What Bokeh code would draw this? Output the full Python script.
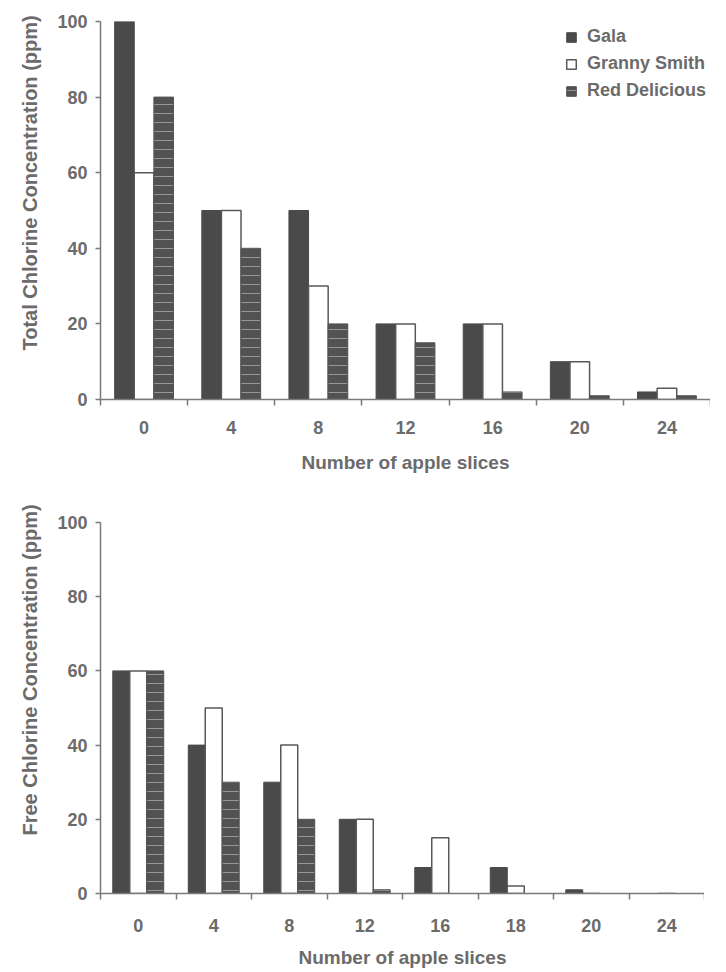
from bokeh.plotting import figure
from bokeh.models import (Range1d, FixedTicker, Legend, LegendItem, Title,
                          ColumnDataSource)
from bokeh.transform import dodge
from bokeh.layouts import column
from bokeh.embed import file_html
from bokeh.resources import INLINE

# ---------------- data ----------------
series_names = ["Gala", "Granny Smith", "Red Delicious"]

total_slices = ["0", "4", "8", "12", "16", "20", "24"]
total_gala = [100, 50, 50, 20, 20, 10, 2]
total_granny = [60, 50, 30, 20, 20, 10, 3]
total_red = [80, 40, 20, 15, 2, 1, 1]

free_slices = ["0", "4", "8", "12", "16", "18", "20", "24"]
free_gala = [60, 40, 30, 20, 7, 7, 1, 0]
free_granny = [60, 50, 40, 20, 15, 2, 0, 0]
free_red = [60, 30, 20, 1, 0, 0, 0, 0]

y_ticks = [0, 20, 40, 60, 80, 100]

# ---------------- style ----------------
FONT = "Liberation Sans"
TEXT = "#6b6b6b"
AXIS = "#7a7a7a"
GALA = "#4a4a4a"
RED = "#525252"
OUTLINE = "#585858"
BW = 0.225


def make_chart(labels, gala, granny, red, ytitle, frame_w, frame_h, top_b,
               bottom_b, title_offset, lab_standoff, title_standoff,
               with_legend):
    n = len(labels)
    xs = list(range(n))
    src = ColumnDataSource(dict(x=xs, gala=gala, granny=granny, red=red))
    p = figure(width=100 + frame_w, height=top_b + frame_h + bottom_b,
               frame_width=frame_w, frame_height=frame_h,
               x_range=Range1d(-0.5, n - 0.5), y_range=Range1d(0, 100),
               output_backend="svg", toolbar_location=None,
               min_border_left=100, min_border_right=0,
               min_border_top=top_b, min_border_bottom=bottom_b)
    p.xgrid.visible = False
    p.ygrid.visible = False
    p.outline_line_color = None

    r1 = p.vbar(x=dodge("x", -BW), top="gala", bottom=0, width=BW,
                source=src, fill_color=GALA, line_color=GALA, line_width=1)
    r2 = p.vbar(x="x", top="granny", bottom=0, width=BW, source=src,
                fill_color="white", line_color=OUTLINE, line_width=1.5)
    r3 = p.vbar(x=dodge("x", BW), top="red", bottom=0, width=BW, source=src,
                fill_color=RED, line_color=RED, line_width=1,
                hatch_pattern="horizontal_line", hatch_color="#cfcfcf",
                hatch_scale=9, hatch_weight=1, hatch_alpha=0.55)

    # x axis
    ax = p.xaxis[0]
    ax.ticker = FixedTicker(ticks=xs,
                            minor_ticks=[i - 0.5 for i in range(n + 1)])
    ax.major_label_overrides = {i: lab for i, lab in enumerate(labels)}
    ax.major_tick_line_color = None
    ax.major_tick_out = 0
    ax.major_tick_in = 0
    ax.minor_tick_line_color = AXIS
    ax.minor_tick_line_width = 1.5
    ax.minor_tick_out = 6
    ax.minor_tick_in = 0
    ax.axis_line_color = AXIS
    ax.axis_line_width = 1.5
    ax.major_label_standoff = lab_standoff
    ax.major_label_text_font = FONT
    ax.major_label_text_font_size = "18px"
    ax.major_label_text_font_style = "bold"
    ax.major_label_text_color = TEXT
    ax.axis_label = "Number of apple slices"
    ax.axis_label_standoff = title_standoff
    ax.axis_label_text_font = FONT
    ax.axis_label_text_font_size = "19px"
    ax.axis_label_text_font_style = "bold"
    ax.axis_label_text_color = TEXT

    # y axis
    ay = p.yaxis[0]
    ay.ticker = FixedTicker(ticks=y_ticks, minor_ticks=[])
    ay.major_tick_out = 5
    ay.major_tick_in = 0
    ay.major_tick_line_color = AXIS
    ay.major_tick_line_width = 1.5
    ay.minor_tick_line_color = None
    ay.axis_line_color = AXIS
    ay.axis_line_width = 1.5
    ay.major_label_standoff = 8
    ay.major_label_text_font = FONT
    ay.major_label_text_font_size = "18px"
    ay.major_label_text_font_style = "bold"
    ay.major_label_text_color = TEXT

    p.add_layout(Title(text=ytitle, align="left", offset=title_offset,
                       standoff=27, text_font=FONT, text_font_size="20px",
                       text_font_style="bold", text_color=TEXT), "left")

    if with_legend:
        legend = Legend(items=[LegendItem(label=series_names[0], renderers=[r1]),
                               LegendItem(label=series_names[1], renderers=[r2]),
                               LegendItem(label=series_names[2], renderers=[r3])],
                        location=(465, 298), orientation="vertical",
                        glyph_width=12, glyph_height=12, label_height=20,
                        label_standoff=10, spacing=6, padding=0, margin=0,
                        border_line_color=None, background_fill_alpha=0,
                        label_text_font=FONT, label_text_font_size="18px",
                        label_text_font_style="bold",
                        label_text_color=TEXT)
        p.add_layout(legend)
    return p


p1 = make_chart(total_slices, total_gala, total_granny, total_red,
                "Total Chlorine Concentration (ppm)", 610, 378, 21, 81,
                49, 15, 15, True)
p2 = make_chart(free_slices, free_gala, free_granny, free_red,
                "Free Chlorine Concentration (ppm)", 604, 371, 42, 71,
                58, 19, 12, False)

layout = column(p1, p2, spacing=0)
open("out.html", "w").write(file_html(layout, INLINE))
